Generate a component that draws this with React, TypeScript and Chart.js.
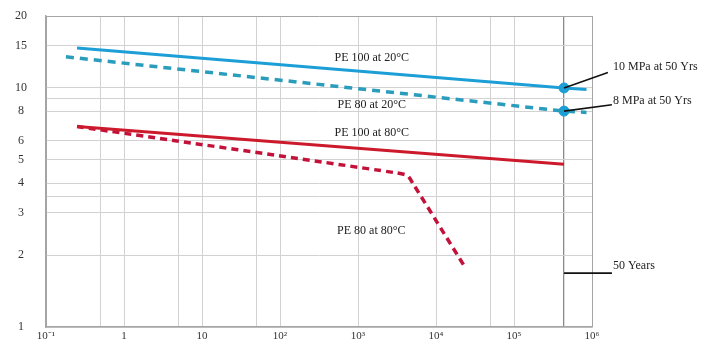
import React, { useEffect, useRef } from "react";
import { Chart, registerables } from "chart.js";

Chart.register(...registerables);

// ---- data (hours vs hoop stress MPa) ----
const pe100at20Hours = [0.25, 438000, 850000];
const pe100at20MPa = [14.7, 10, 9.85];

const pe80at20Hours = [0.18, 438000, 850000];
const pe80at20MPa = [13.5, 8, 7.9];

const pe100at80Hours = [0.25, 438000];
const pe100at80MPa = [6.9, 4.8];

const pe80at80Hours = [0.25, 3000, 4300, 5100, 23500];
const pe80at80MPa = [6.9, 4.42, 4.3, 3.97, 1.78];

const fiftyYearHours = [438000, 438000];
const fiftyYearMPa = [10, 8];

// ---- axes ----
const xDecadeValues = [0.1, 1, 10, 100, 1000, 10000, 100000, 1000000];
const xDecadeLabels = ["10⁻¹", "1", "10", "10²", "10³", "10⁴", "10⁵", "10⁶"];
const xExtraGrid = [0.5, 5, 50, 50000];
const fiftyYearsLine = 438000;

const yTickValues = [1, 2, 3, 4, 5, 6, 8, 10, 15, 20];
const yExtraGrid = [3.5, 9];

// ---- annotation text (data coordinates) ----
const curveLabels = ["PE 100 at 20°C", "PE 80 at 20°C", "PE 100 at 80°C", "PE 80 at 80°C"];
const curveLabelHours = [1500, 1500, 1500, 1480];
const curveLabelMPa = [13.4, 8.46, 6.48, 2.53];

const calloutLabels = ["10 MPa at 50 Yrs", "8 MPa at 50 Yrs", "50 Years"];
const calloutTextHours = [1.86e6, 1.86e6, 1.86e6];
const calloutTextMPa = [12.2, 8.8, 1.8];
const calloutFromHours = [438000, 438000, 438000];
const calloutFromMPa = [10, 8, 1.68];
const calloutToHours = [1.6e6, 1.8e6, 1.8e6];
const calloutToMPa = [11.6, 8.5, 1.68];

const toPoints = (xs: number[], ys: number[]) => xs.map((x, i) => ({ x, y: ys[i] }));

const SERIF = '"Liberation Serif", "Times New Roman", serif';

const annotationPlugin = {
  id: "annotations",
  afterDatasetsDraw(chart: any) {
    const { ctx, scales } = chart;
    const xs = scales.x;
    const ys = scales.y;
    ctx.save();
    ctx.strokeStyle = "#111";
    ctx.lineWidth = 1.6;
    for (let i = 0; i < calloutLabels.length; i++) {
      ctx.beginPath();
      ctx.moveTo(xs.getPixelForValue(calloutFromHours[i]), ys.getPixelForValue(calloutFromMPa[i]));
      ctx.lineTo(xs.getPixelForValue(calloutToHours[i]), ys.getPixelForValue(calloutToMPa[i]));
      ctx.stroke();
    }
    ctx.fillStyle = "#222";
    ctx.font = `12px ${SERIF}`;
    ctx.textBaseline = "middle";
    ctx.textAlign = "center";
    for (let i = 0; i < curveLabels.length; i++) {
      ctx.fillText(curveLabels[i], xs.getPixelForValue(curveLabelHours[i]), ys.getPixelForValue(curveLabelMPa[i]));
    }
    ctx.textAlign = "left";
    for (let i = 0; i < calloutLabels.length; i++) {
      ctx.fillText(calloutLabels[i], xs.getPixelForValue(calloutTextHours[i]), ys.getPixelForValue(calloutTextMPa[i]));
    }
    ctx.restore();
  },
};

export default function App() {
  const canvasRef = useRef<HTMLCanvasElement | null>(null);

  useEffect(() => {
    if (!canvasRef.current) return;
    Chart.defaults.font.family = SERIF;
    const xTicks = [...xDecadeValues, ...xExtraGrid, fiftyYearsLine].sort((a, b) => a - b);
    const yTicks = [...yTickValues, ...yExtraGrid].sort((a, b) => a - b);
    const blue = "#1c9fd6";
    const blueDash = "#2a9cbc";
    const red = "#cc1a2c";
    const redDash = "#c3123a";

    const chart = new Chart(canvasRef.current, {
      type: "line",
      data: {
        datasets: [
          {
            label: "PE 100 at 20°C",
            data: toPoints(pe100at20Hours, pe100at20MPa),
            borderColor: blue,
            borderWidth: 3,
            pointRadius: 0,
            tension: 0,
          },
          {
            label: "PE 80 at 20°C",
            data: toPoints(pe80at20Hours, pe80at20MPa),
            borderColor: blueDash,
            borderWidth: 3.5,
            borderDash: [8, 6],
            pointRadius: 0,
            tension: 0,
          },
          {
            label: "PE 100 at 80°C",
            data: toPoints(pe100at80Hours, pe100at80MPa),
            borderColor: red,
            borderWidth: 3,
            pointRadius: 0,
            tension: 0,
          },
          {
            label: "PE 80 at 80°C",
            data: toPoints(pe80at80Hours, pe80at80MPa),
            borderColor: redDash,
            borderWidth: 3.5,
            borderDash: [7, 5],
            pointRadius: 0,
            tension: 0.2,
          },
          {
            label: "50 years",
            data: toPoints(fiftyYearHours, fiftyYearMPa),
            showLine: false,
            pointRadius: 5,
            pointBackgroundColor: blue,
            pointBorderColor: blue,
            borderColor: blue,
          },
        ],
      },
      options: {
        animation: false,
        responsive: false,
        events: [],
        layout: { autoPadding: false, padding: { top: 16, right: 110, left: 0, bottom: 0 } },
        plugins: { legend: { display: false }, tooltip: { enabled: false } },
        scales: {
          x: {
            type: "logarithmic",
            min: 0.1,
            max: 1000000,
            afterFit: (s: any) => {
              s.height = 17;
            },
            afterBuildTicks: (s: any) => {
              s.ticks = xTicks.map((v) => ({ value: v }));
            },
            ticks: {
              autoSkip: false,
              maxRotation: 0,
              padding: 3,
              color: "#333",
              font: { size: 11, family: SERIF },
              callback: (v: any) => {
                const i = xDecadeValues.indexOf(Number(v));
                return i >= 0 ? xDecadeLabels[i] : "";
              },
            },
            grid: {
              drawTicks: false,
              color: (c: any) => {
                const v = c.tick ? c.tick.value : 0;
                if (v === fiftyYearsLine) return "#8a8a8a";
                if (v === 1000000 || v === 0.1) return "#a5a5a5";
                return "#d2d2d2";
              },
              lineWidth: (c: any) => (c.tick && c.tick.value === fiftyYearsLine ? 1.3 : 1),
            },
            border: { display: true, color: "#a5a5a5", width: 1.5 },
          },
          y: {
            type: "logarithmic",
            min: 1,
            max: 20,
            afterFit: (s: any) => {
              s.width = 46;
              s.paddingTop = 8;
              s.paddingBottom = 0;
            },
            afterBuildTicks: (s: any) => {
              s.ticks = yTicks.map((v) => ({ value: v }));
            },
            ticks: {
              autoSkip: false,
              crossAlign: "center",
              padding: 19,
              color: "#333",
              font: { size: 12, family: SERIF },
              callback: (v: any) => (yTickValues.indexOf(Number(v)) >= 0 ? String(v) : ""),
            },
            grid: {
              drawTicks: false,
              color: (c: any) => {
                const v = c.tick ? c.tick.value : 0;
                if (v === 20) return "#a5a5a5";
                return "#d2d2d2";
              },
            },
            border: { display: true, color: "#a5a5a5", width: 1.5 },
          },
        },
      },
      plugins: [annotationPlugin],
    } as any);
    return () => chart.destroy();
  }, []);

  return (
    <div style={{ position: "fixed", left: 0, top: 0, width: 702, height: 344, background: "#fff" }}>
      <canvas ref={canvasRef} width={702} height={344} style={{ display: "block", width: 702, height: 344 }} />
    </div>
  );
}
